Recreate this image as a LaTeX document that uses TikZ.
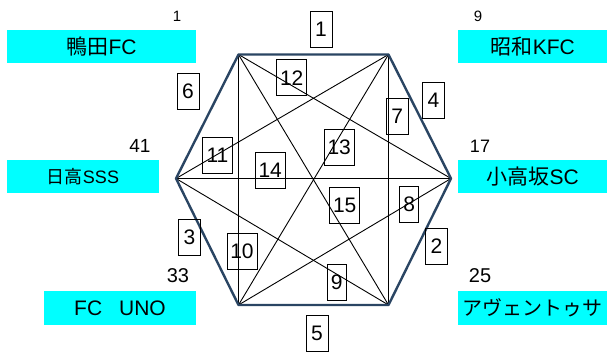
\documentclass[tikz,border=0pt]{standalone}
\usepackage{fontspec}
\setmainfont{Liberation Sans}
\newfontfamily\jp{Noto Sans CJK JP}
\begin{document}
\begin{tikzpicture}[x=1pt,y=-1pt,
  hexedge/.style={draw=hexblue,line width=2.4pt,line join=round},
  diag/.style={draw=black,line width=0.9pt},
  numbox/.style={draw=black,line width=0.9pt,inner sep=0pt,minimum width=22pt,minimum height=36pt,font=\fontsize{21}{21}\selectfont},
  wide/.style={minimum width=30pt},
  team/.style={fill=teamcyan,inner sep=0pt,minimum height=33.5pt,font=\fontsize{21}{21}\selectfont},
  seed/.style={inner sep=0pt}]
\definecolor{hexblue}{HTML}{2A4563}
\definecolor{teamcyan}{HTML}{00FFFF}
\useasboundingbox (0,0) rectangle (608,353);
% vertices
\coordinate (TL) at (238.5,54.5);
\coordinate (TR) at (388.5,54.5);
\coordinate (R) at (451,178.5);
\coordinate (BR) at (388.5,305);
\coordinate (BL) at (238.5,305);
\coordinate (L) at (176,178.5);
% diagonals
\draw[diag] (TL) -- (BL);
\draw[diag] (TR) -- (BR);
\draw[diag] (L) -- (R);
\draw[diag] (TL) -- (BR);
\draw[diag] (TR) -- (BL);
\draw[diag] (TL) -- (R);
\draw[diag] (TR) -- (L);
\draw[diag] (BL) -- (R);
\draw[diag] (BR) -- (L);
% hexagon
\draw[hexedge] (TL) -- (TR) -- (R) -- (BR) -- (BL) -- (L) -- cycle;
% team boxes
\node[team,minimum width=189pt] (kamoda) at (101.5,46.5) {{\jp 鴨田}FC};
\node[team,minimum width=149pt] (showa) at (532.8,46.5) {{\jp 昭和}KFC};
\node[team,minimum width=152pt,font=\fontsize{18}{18}\selectfont] (hidaka) at (83,176.7) {{\jp 日高}SSS};
\node[team,minimum width=149pt] (kotakasaka) at (532.8,176.7) {{\jp 小高坂}SC};
\node[team,minimum width=152pt] (fcuno) at (120,308) {FC\hspace{17pt}UNO};
\node[team,minimum width=149pt,font=\fontsize{20}{20}\selectfont] (avento) at (532.8,308) {\jp アヴェントゥサ};
% seeds
\node[seed,font=\fontsize{15}{15}\selectfont] (s1) at (177,16) {1};
\node[seed,font=\fontsize{15}{15}\selectfont] (s9) at (478,16) {9};
\node[seed,font=\fontsize{19}{19}\selectfont] (s41) at (140,146) {41};
\node[seed,font=\fontsize{18}{18}\selectfont] (s17) at (480,146) {17};
\node[seed,font=\fontsize{20}{20}\selectfont] (s33) at (178,276) {33};
\node[seed,font=\fontsize{20}{20}\selectfont] (s25) at (480,276) {25};
% match numbers
\node[numbox] (m1) at (321,29) {1};
\node[numbox] (m2) at (436.5,246) {2};
\node[numbox] (m3) at (189.5,237) {3};
\node[numbox] (m4) at (433.5,100.5) {4};
\node[numbox] (m5) at (317,333) {5};
\node[numbox] (m6) at (188,91) {6};
\node[numbox] (m7) at (397.3,116.3) {7};
\node[numbox,minimum width=19pt] (m8) at (409.3,204.5) {8};
\node[numbox,minimum width=19pt] (m9) at (336.7,282) {9};
\node[numbox,wide] (m10) at (242,251) {10};
\node[numbox,wide] (m11) at (217.5,155.5) {11};
\node[numbox,wide] (m12) at (291.7,77.8) {12};
\node[numbox,wide] (m13) at (339.2,147.2) {13};
\node[numbox,wide] (m14) at (270.2,170.5) {14};
\node[numbox,wide] (m15) at (344.7,205.3) {15};
\end{tikzpicture}
\end{document}
